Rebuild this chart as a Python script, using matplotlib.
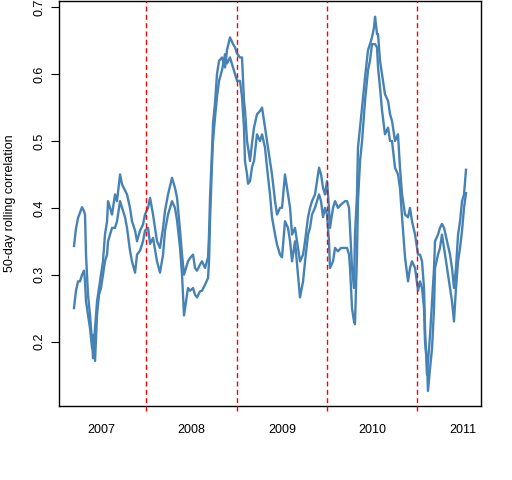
import matplotlib
matplotlib.use("Agg")
import matplotlib.pyplot as plt
import numpy as np

# decimal-year dates of the readings
dates = [2007.199, 2007.221, 2007.244, 2007.266, 2007.288, 2007.310, 2007.321, 2007.332, 2007.354, 2007.376,
         2007.399, 2007.410, 2007.432, 2007.454, 2007.476, 2007.498, 2007.520, 2007.542, 2007.565, 2007.576,
         2007.598, 2007.620, 2007.653, 2007.675, 2007.709, 2007.731, 2007.764, 2007.786, 2007.819, 2007.841,
         2007.875, 2007.897, 2007.930, 2007.963, 2007.985, 2008.019, 2008.041, 2008.074, 2008.118, 2008.151,
         2008.185, 2008.207, 2008.240, 2008.284, 2008.317, 2008.340, 2008.373, 2008.395, 2008.417, 2008.439,
         2008.461, 2008.484, 2008.517, 2008.539, 2008.561, 2008.594, 2008.616, 2008.650, 2008.683, 2008.694,
         2008.705, 2008.727, 2008.738, 2008.760, 2008.782, 2008.805, 2008.838, 2008.871, 2008.893, 2008.926,
         2008.960, 2008.982, 2009.004, 2009.037, 2009.059, 2009.081, 2009.092, 2009.115, 2009.126, 2009.148,
         2009.170, 2009.192, 2009.225, 2009.259, 2009.281, 2009.314, 2009.336, 2009.369, 2009.391, 2009.425,
         2009.447, 2009.480, 2009.502, 2009.535, 2009.568, 2009.591, 2009.613, 2009.646, 2009.679, 2009.701,
         2009.735, 2009.757, 2009.790, 2009.812, 2009.834, 2009.867, 2009.890, 2009.912, 2009.934, 2009.956,
         2009.978, 2010.000, 2010.022, 2010.033, 2010.067, 2010.089, 2010.122, 2010.155, 2010.200, 2010.222,
         2010.244, 2010.255, 2010.277, 2010.299, 2010.310, 2010.332, 2010.343, 2010.366, 2010.388, 2010.421,
         2010.454, 2010.476, 2010.498, 2010.521, 2010.532, 2010.554, 2010.565, 2010.587, 2010.609, 2010.642,
         2010.676, 2010.698, 2010.720, 2010.753, 2010.786, 2010.808, 2010.831, 2010.864, 2010.897, 2010.919,
         2010.941, 2010.975, 2011.008, 2011.030, 2011.052, 2011.074, 2011.085, 2011.107, 2011.118, 2011.141,
         2011.163, 2011.185, 2011.196, 2011.229, 2011.251, 2011.273, 2011.296, 2011.329, 2011.362, 2011.384,
         2011.406, 2011.428, 2011.451, 2011.473, 2011.495, 2011.517, 2011.539]

corr_a = [0.343, 0.369, 0.385, 0.393, 0.401, 0.395, 0.390, 0.330, 0.270, 0.240,
          0.200, 0.175, 0.220, 0.260, 0.280, 0.300, 0.320, 0.360, 0.380, 0.410,
          0.400, 0.390, 0.420, 0.410, 0.450, 0.435, 0.426, 0.420, 0.400, 0.380,
          0.366, 0.350, 0.366, 0.375, 0.390, 0.400, 0.415, 0.390, 0.350, 0.340,
          0.370, 0.396, 0.420, 0.445, 0.430, 0.415, 0.366, 0.330, 0.300, 0.310,
          0.320, 0.325, 0.330, 0.310, 0.306, 0.315, 0.320, 0.310, 0.326, 0.360,
          0.415, 0.486, 0.526, 0.556, 0.600, 0.620, 0.625, 0.610, 0.636, 0.655,
          0.645, 0.640, 0.631, 0.625, 0.625, 0.560, 0.546, 0.500, 0.490, 0.470,
          0.497, 0.520, 0.540, 0.545, 0.550, 0.520, 0.500, 0.470, 0.450, 0.410,
          0.390, 0.400, 0.400, 0.450, 0.420, 0.400, 0.360, 0.370, 0.340, 0.320,
          0.330, 0.350, 0.386, 0.400, 0.410, 0.420, 0.440, 0.460, 0.450, 0.430,
          0.420, 0.440, 0.400, 0.370, 0.400, 0.410, 0.400, 0.405, 0.410, 0.410,
          0.400, 0.370, 0.310, 0.280, 0.360, 0.420, 0.490, 0.520, 0.550, 0.595,
          0.636, 0.645, 0.655, 0.670, 0.686, 0.660, 0.660, 0.620, 0.600, 0.570,
          0.560, 0.540, 0.530, 0.500, 0.510, 0.460, 0.420, 0.390, 0.386, 0.400,
          0.380, 0.360, 0.330, 0.330, 0.320, 0.280, 0.220, 0.150, 0.170, 0.210,
          0.260, 0.310, 0.350, 0.360, 0.370, 0.376, 0.370, 0.350, 0.330, 0.310,
          0.280, 0.310, 0.360, 0.380, 0.410, 0.420, 0.457]

corr_b = [0.250, 0.276, 0.290, 0.290, 0.300, 0.306, 0.290, 0.260, 0.240, 0.220,
          0.190, 0.210, 0.171, 0.240, 0.270, 0.280, 0.300, 0.320, 0.330, 0.350,
          0.360, 0.370, 0.370, 0.380, 0.410, 0.400, 0.386, 0.370, 0.336, 0.320,
          0.303, 0.330, 0.336, 0.350, 0.366, 0.370, 0.346, 0.355, 0.320, 0.303,
          0.330, 0.366, 0.390, 0.410, 0.400, 0.381, 0.340, 0.300, 0.239, 0.260,
          0.280, 0.276, 0.280, 0.270, 0.266, 0.275, 0.276, 0.285, 0.295, 0.320,
          0.380, 0.466, 0.500, 0.535, 0.566, 0.590, 0.606, 0.630, 0.616, 0.625,
          0.610, 0.600, 0.590, 0.590, 0.566, 0.520, 0.470, 0.450, 0.436, 0.440,
          0.461, 0.470, 0.510, 0.500, 0.510, 0.490, 0.460, 0.420, 0.386, 0.360,
          0.345, 0.330, 0.326, 0.380, 0.370, 0.350, 0.320, 0.350, 0.300, 0.266,
          0.290, 0.320, 0.360, 0.370, 0.390, 0.400, 0.410, 0.420, 0.410, 0.386,
          0.400, 0.390, 0.350, 0.310, 0.320, 0.340, 0.335, 0.340, 0.340, 0.340,
          0.330, 0.310, 0.250, 0.230, 0.226, 0.330, 0.410, 0.470, 0.500, 0.560,
          0.606, 0.620, 0.645, 0.645, 0.645, 0.640, 0.610, 0.580, 0.546, 0.510,
          0.520, 0.500, 0.500, 0.460, 0.450, 0.430, 0.386, 0.326, 0.290, 0.310,
          0.320, 0.310, 0.276, 0.290, 0.280, 0.250, 0.200, 0.170, 0.126, 0.160,
          0.190, 0.250, 0.310, 0.330, 0.340, 0.360, 0.340, 0.310, 0.280, 0.260,
          0.230, 0.280, 0.320, 0.340, 0.366, 0.400, 0.422]

year_breaks = [2008, 2009, 2010, 2011]
year_labels = ["2007", "2008", "2009", "2010", "2011"]
ytick_vals = [0.2, 0.3, 0.4, 0.5, 0.6, 0.7]

plt.rcParams['font.family'] = ['Liberation Sans', 'DejaVu Sans']

W, H = 512, 480
fig = plt.figure(figsize=(W / 100, H / 100), dpi=100)
ax = fig.add_axes([59 / W, 74 / H, 422 / W, 405 / H])

line_color = "#4682B4"
ax.plot(dates, corr_a, color=line_color, lw=1.7)
ax.plot(dates, corr_b, color=line_color, lw=1.7)

for yb in year_breaks:
    ax.axvline(yb, ymin=-0.013, ymax=1, color="#FF0000", lw=1.0,
               dashes=(3.6, 2.4), clip_on=False, zorder=3)

ax.set_xlim(2007.033, 2011.705)
ax.set_ylim(0.1035, 0.7095)

ax.set_xticks([2007.5 + i for i in range(len(year_labels))])
ax.set_xticklabels(year_labels, fontsize=9)
ax.tick_params(axis='x', length=0, pad=13)

ax.set_yticks(ytick_vals)
ax.set_yticklabels([f"{v:.1f}" for v in ytick_vals], fontsize=9, rotation=90,
                   va='center')
ax.tick_params(axis='y', length=6, width=0.8, pad=4, direction='out')

for sp in ax.spines.values():
    sp.set_linewidth(1.0)
    sp.set_color('black')

fig.text(10 / W, 1 - 203.5 / H, "50-day rolling correlation", rotation=90,
         ha='center', va='center', fontsize=9)

fig.savefig("out.png", dpi=100)
